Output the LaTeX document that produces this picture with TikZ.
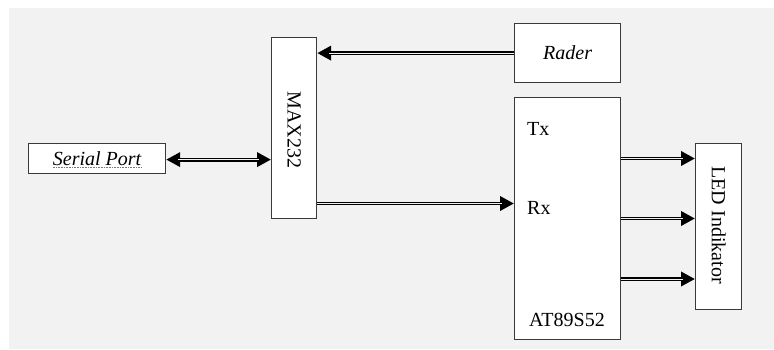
\documentclass[tikz,border=0pt]{standalone}
\usepackage{fontspec}
\setmainfont{Liberation Serif}
\usetikzlibrary{arrows.meta}
\definecolor{bg}{HTML}{F2F2F2}
\definecolor{bdr}{HTML}{3A3A3A}
\definecolor{spell}{HTML}{D040C0}
\begin{document}
\begin{tikzpicture}[x=1pt,y=-1pt,
  box/.style={draw=bdr, line width=1.2pt, fill=white, inner sep=0pt, anchor=north west},
  txt/.style={font=\fontsize{20}{22}\selectfont, inner sep=0pt, text=black},
  itxt/.style={txt, font=\fontsize{20}{22}\selectfont\itshape},
  dbl/.style={draw=black, line width=3.9pt,
    postaction={draw=bg, line width=1pt, arrows=-, yshift=-0.4pt, shorten >=12pt, shorten <=#1}},
  dbl/.default=0pt,
  tip/.style={-{Triangle[length=14pt,width=14pt]}},
  tips/.style={{Triangle[length=14pt,width=14pt]}-{Triangle[length=14pt,width=14pt]}}
]
\useasboundingbox (0,0) rectangle (774,349);
\fill[bg] (9,8) rectangle (774,349);

\node[box, minimum width=137pt, minimum height=30pt] (serial) at (28,143) {};
\node[box, minimum width=45pt, minimum height=181pt] (max) at (271,37) {};
\node[box, minimum width=106pt, minimum height=59pt] (rader) at (514,23) {};
\node[box, minimum width=106pt, minimum height=242pt] (at) at (514,97) {};
\node[box, minimum width=46pt, minimum height=166pt] (led) at (695,143) {};

\node[itxt] (serialtxt) at (serial.center) {Serial Port};
\draw[spell, line width=0.8pt, dash pattern=on 0.8pt off 0.8pt] ([yshift=-1.8pt]serialtxt.base west) -- ([yshift=-1.8pt]serialtxt.base east);
\node[txt, rotate=-90] (maxtxt) at ([yshift=-2pt]max.center) {MAX232};
\node[itxt] (radertxt) at (rader.center) {Rader};
\node[txt, anchor=west] (tx) at (527,129) {Tx};
\node[txt, anchor=west] (rx) at (527,208) {Rx};
\node[txt] (attxt) at (567,320) {AT89S52};
\node[txt, rotate=-90] (ledtxt) at ([yshift=1.5pt]led.center) {LED Indikator};

\coordinate (rxy) at (0,203.5);
\coordinate (l1) at (0,158.5);
\coordinate (l2) at (0,218.5);
\coordinate (l3) at (0,279);

\draw[dbl, tip] (rader.west) -- (max.east |- rader.west);
\draw[dbl=12pt, tips] ([yshift=-1pt]serial.east) -- ([yshift=-1pt]max.west |- serial.east);
\draw[dbl, tip] (max.east |- rxy) -- (at.west |- rxy);
\draw[dbl, tip] (at.east |- l1) -- (led.west |- l1);
\draw[dbl, tip] (at.east |- l2) -- (led.west |- l2);
\draw[dbl, tip] (at.east |- l3) -- (led.west |- l3);
\end{tikzpicture}
\end{document}
